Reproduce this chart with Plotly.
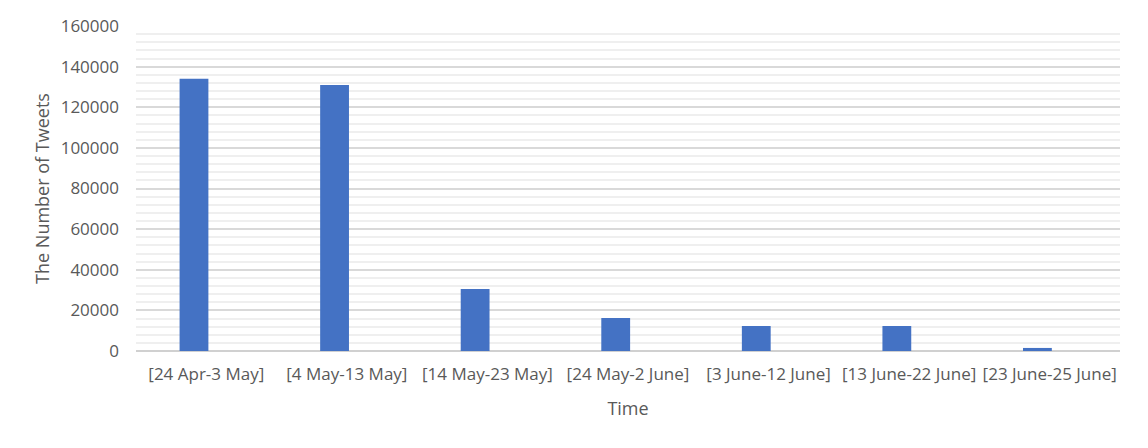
import plotly.graph_objects as go

categories = ["[24 Apr-3 May]", "[4 May-13 May]", "[14 May-23 May]", "[24 May-2 June]",
              "[3 June-12 June]", "[13 June-22 June]", "[23 June-25 June]"]
tweets = [134000, 131000, 30500, 16200, 12300, 12300, 1500]

fig = go.Figure()
fig.add_trace(go.Bar(x=categories, y=tweets, marker=dict(color="#4472C4", line=dict(width=0)),
                     width=0.205, offset=-0.19))

font_color = "#595959"
fig.update_layout(
    width=1148, height=448,
    margin=dict(l=136, r=28, t=26, b=97),
    paper_bgcolor="white", plot_bgcolor="white",
    font=dict(family="Open Sans", size=17, color=font_color),
    showlegend=False,
    xaxis=dict(
        title=dict(text="Time", font=dict(size=18, color=font_color), standoff=18),
        showgrid=False, showline=False, zeroline=False,
        ticks="", ticklabelstandoff=11,
        tickfont=dict(size=17, color=font_color),
    ),
    yaxis=dict(
        title=dict(text="The Number of Tweets", font=dict(size=18, color=font_color), standoff=6),
        range=[0, 160000], dtick=20000, tickformat="d",
        showgrid=True, gridcolor="#d9d9d9", gridwidth=1.5,
        zeroline=True, zerolinecolor="#d0d0d0", zerolinewidth=2,
        showline=False, ticks="", ticklabelstandoff=16,
        tickfont=dict(size=17, color=font_color),
        minor=dict(dtick=4000, showgrid=True, gridcolor="#efefef", gridwidth=1.5),
    ),
)

fig.write_html("out.html")
